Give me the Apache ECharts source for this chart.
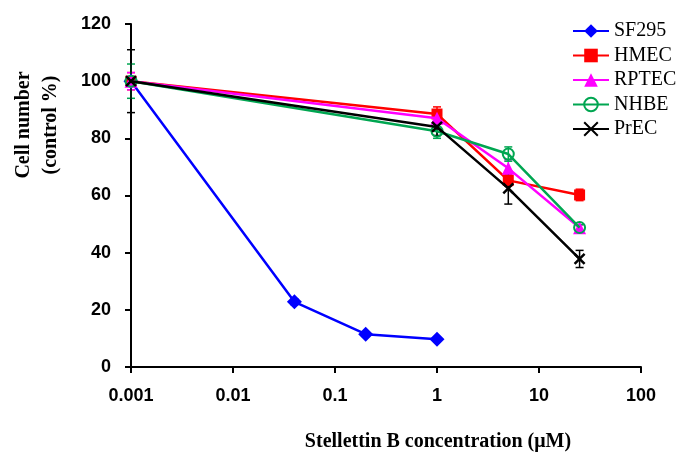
<!DOCTYPE html>
<html><head><meta charset="utf-8">
<script src="https://cdn.jsdelivr.net/npm/echarts@6/dist/echarts.min.js"></script>
<style>html,body{margin:0;padding:0;background:#fff}#c{width:678px;height:454px}</style>
</head><body><div id="c"></div>
<script>
const seriesNames = ['SF295', 'HMEC', 'RPTEC', 'NHBE', 'PrEC'];
const concSF = [0.001, 0.04, 0.2, 1];
const concOther = [0.001, 1, 5, 25];
const sf295 = [100, 22.8, 11.5, 9.7];
const sf295Err = [1, 1, 0.8, 0.8];
const hmec = [100, 88.5, 65.3, 60.2];
const hmecErr = [3, 2.5, 2, 2];
const rptec = [100, 87, 69.5, 48.7];
const rptecErr = [3, 2, 3, 1];
const nhbe = [100, 82.5, 74.5, 48.8];
const nhbeErr = [6, 2.5, 2.5, 1];
const prec = [100, 84, 62.5, 37.8];
const precErr = [11, 3, 5.5, 3];
const xTickLabels = {'-3':'0.001','-2':'0.01','-1':'0.1','0':'1','1':'10','2':'100'};
const yMin = 0, yMax = 120, yStep = 20;

const colors = ['#0000FF', '#FF0000', '#FF00FF', '#00A651', '#000000'];
const xs = [concSF, concOther, concOther, concOther, concOther];
const ys = [sf295, hmec, rptec, nhbe, prec];
const es = [sf295Err, hmecErr, rptecErr, nhbeErr, precErr];
const symbols = ['diamond', 'rect', 'triangle', 'circle', 'path://M0,0L10,10M10,0L0,10'];
const symbolSizes = [15, 11, 13, 11, 10];

const chart = echarts.init(document.getElementById('c'));
const series = [];
seriesNames.forEach((name, k) => {
  const c = colors[k];
  series.push({
    type: 'custom', name: name + ' err', z: 2 + k, silent: true,
    data: xs[k].map((x, i) => [x, ys[k][i], es[k][i]]),
    encode: {x: 0, y: 1},
    renderItem(params, api) {
      const x = api.value(0), y = api.value(1), e = api.value(2);
      const t = api.coord([x, y + e]), b = api.coord([x, y - e]);
      const w = 4, st = {stroke: c, lineWidth: 1.5};
      return {type: 'group', children: [
        {type: 'line', shape: {x1: t[0], y1: t[1], x2: b[0], y2: b[1]}, style: st},
        {type: 'line', shape: {x1: t[0] - w, y1: t[1], x2: t[0] + w, y2: t[1]}, style: st},
        {type: 'line', shape: {x1: b[0] - w, y1: b[1], x2: b[0] + w, y2: b[1]}, style: st}
      ]};
    }
  });
  const isHollow = k === 3, isCross = k === 4;
  series.push({
    type: 'line', name: name, z: 10 + k,
    data: xs[k].map((x, i) => [x, ys[k][i]]),
    symbol: symbols[k], symbolSize: symbolSizes[k],
    showAllSymbol: true,
    lineStyle: {color: c, width: 2.5},
    itemStyle: isHollow ? {color: 'rgba(255,255,255,0)', borderColor: c, borderWidth: 2}
             : isCross ? {color: c, borderColor: c, borderWidth: 2.5}
             : {color: c, borderWidth: 0},
    emphasis: {disabled: true},
    animation: false
  });
});

chart.setOption({
  animation: false,
  backgroundColor: '#fff',
  grid: {left: 131, right: 37, top: 24, bottom: 87},
  legend: {
    orient: 'vertical', left: 567, top: 16, itemWidth: 36, itemHeight: 17, itemGap: 4.5,
    textStyle: {fontFamily: 'Liberation Serif', fontSize: 20, color: '#000', lineHeight: 20},
    data: seriesNames
  },
  xAxis: {
    type: 'log', logBase: 10, min: 0.001, max: 100,
    axisLine: {lineStyle: {color: '#000', width: 2}},
    axisTick: {show: true, inside: false, length: 6, lineStyle: {color: '#000', width: 2}},
    minorTick: {show: false},
    splitLine: {show: false},
    axisLabel: {
      margin: 20, color: '#000', fontFamily: 'Liberation Sans', fontWeight: 'bold', fontSize: 18,
      formatter: v => xTickLabels[String(Math.round(Math.log10(v)))] || ''
    }
  },
  yAxis: {
    type: 'value', min: yMin, max: yMax, interval: yStep,
    axisLine: {show: true, lineStyle: {color: '#000', width: 2}},
    axisTick: {show: true, inside: false, length: 6, lineStyle: {color: '#000', width: 2}},
    splitLine: {show: false},
    axisLabel: {margin: 20, color: '#000', fontFamily: 'Liberation Sans', fontWeight: 'bold', fontSize: 18}
  },
  graphic: [
    {type: 'text', x: 37, y: 125, rotation: Math.PI / 2,
     style: {text: 'Cell number\n(control %)', font: 'bold 20px "Liberation Serif"', fill: '#000',
             textAlign: 'center', textVerticalAlign: 'middle', lineHeight: 27}},
    {type: 'text', x: 438, y: 442,
     style: {text: 'Stellettin B concentration (\u03bcM)', font: 'bold 20px "Liberation Serif"', fill: '#000',
             textAlign: 'center', textVerticalAlign: 'middle'}}
  ],
  series: series
});
</script>
</body></html>
